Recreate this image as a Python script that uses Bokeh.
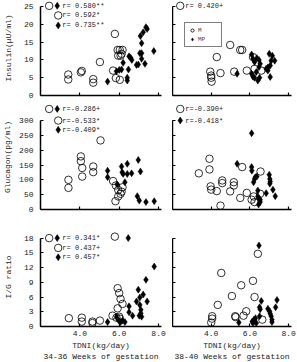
from bokeh.plotting import figure
from bokeh.layouts import gridplot
from bokeh.models import Range1d, FixedTicker, Legend, LegendItem, NumeralTickFormatter
from bokeh.core.properties import value
from bokeh.embed import file_html
from bokeh.resources import INLINE

FONT = "Liberation Mono"

# ---------------- data ----------------
# Insulin, 34-36 weeks
ins34_m_tdni = [3.41, 3.41, 4.05, 4.10, 4.68, 4.68, 5.02, 5.69, 5.78, 5.83, 5.92, 6.03, 5.95, 6.07, 6.17, 6.03, 6.12]
ins34_m_val = [5.9, 4.5, 6.5, 6.9, 4.6, 3.6, 9.4, 7.0, 17.3, 4.9, 12.8, 12.8, 11.2, 11.2, 12.8, 4.4, 11.7]
ins34_mp_tdni = [5.41, 5.86, 6.00, 6.12, 6.20, 6.41, 6.41, 6.47, 6.50, 6.58, 6.64, 6.88, 6.97, 7.05, 7.08, 7.14, 7.14, 7.14, 7.22, 7.36, 7.31, 7.42, 7.76]
ins34_mp_val = [3.9, 6.8, 7.2, 7.3, 9.2, 5.0, 4.2, 7.3, 11.0, 10.6, 10.0, 8.6, 8.7, 11.9, 16.7, 14.7, 11.9, 10.3, 17.8, 19.2, 8.9, 18.7, 12.5]

# Insulin, 38-40 weeks
ins38_m_tdni = [4.98, 5.50, 5.60, 4.29, 3.95, 4.00, 4.00, 4.02, 4.48, 5.19, 5.84, 6.16, 6.24, 6.59]
ins38_m_val = [14.2, 12.8, 12.8, 10.8, 6.7, 5.6, 5.0, 3.9, 6.3, 6.7, 7.0, 10.8, 7.5, 7.0]
ins38_mp_tdni = [5.34, 6.09, 6.16, 6.24, 6.09, 6.16, 6.24, 6.41, 6.47, 6.53, 6.36, 6.47, 6.33, 6.50, 6.84, 6.93, 7.00, 7.05, 7.10, 7.16, 7.28, 7.05, 6.93]
ins38_mp_val = [6.1, 11.5, 10.3, 9.4, 6.1, 5.3, 5.0, 4.2, 10.0, 8.9, 10.5, 8.0, 6.6, 5.0, 7.5, 7.0, 11.7, 8.4, 9.8, 11.2, 9.8, 5.2, 7.9]

# Glucagon, 34-36 weeks
glu34_m_tdni = [3.42, 3.42, 4.05, 4.05, 4.12, 4.12, 4.68, 4.68, 5.05, 5.69, 5.83, 5.81, 5.95, 5.95, 6.07, 6.12, 6.17]
glu34_m_val = [100, 73, 179, 163, 140, 111, 145, 126, 233, 96, 81, 28, 66, 44, 53, 60, 75]
glu34_mp_tdni = [5.41, 5.41, 5.90, 6.12, 6.15, 6.20, 6.29, 6.41, 6.41, 6.63, 6.97, 7.08, 6.92, 7.02, 7.36, 7.78]
glu34_mp_val = [131, 109, 84, 145, 126, 120, 92, 154, 120, 122, 167, 128, 45, 30, 25, 28]

# Glucagon, 38-40 weeks
glu38_m_tdni = [3.36, 3.91, 3.91, 3.97, 4.00, 4.29, 4.48, 4.57, 4.57, 4.98, 5.17, 5.17, 5.50, 5.60, 5.84, 6.09, 6.20, 6.55, 6.53, 6.24]
glu38_m_val = [122, 171, 135, 78, 67, 62, 13, 98, 89, 61, 92, 81, 39, 143, 56, 33, 44, 128, 53, 25]
glu38_mp_tdni = [5.34, 6.09, 6.09, 6.10, 6.19, 6.28, 6.36, 6.41, 6.41, 6.47, 6.45, 6.53, 6.53, 6.84, 7.00, 7.03, 7.05, 7.03, 7.19, 7.31, 6.24]
glu38_mp_val = [154, 257, 143, 131, 92, 109, 111, 64, 44, 36, 17, 33, 25, 55, 117, 103, 94, 87, 67, 45, 103]

# I/G ratio, 34-36 weeks
ig34_m_tdni = [5.78, 3.44, 4.10, 4.10, 4.64, 4.64, 5.02, 5.66, 5.92, 6.00, 6.07, 6.17, 5.92, 6.00, 5.86, 6.03]
ig34_m_val = [18.3, 1.7, 1.8, 1.0, 1.0, 0.7, 1.2, 2.2, 7.8, 6.8, 5.6, 4.6, 3.7, 2.0, 1.8, 1.6]
ig34_mp_tdni = [5.41, 5.86, 5.98, 6.07, 6.17, 6.29, 6.46, 6.50, 6.50, 6.68, 6.88, 6.97, 7.05, 7.02, 7.05, 7.10, 7.10, 7.14, 7.22, 7.36, 7.42, 7.78]
ig34_mp_val = [0.9, 2.0, 1.2, 0.9, 1.2, 0.9, 18.0, 4.1, 2.9, 2.2, 5.1, 7.5, 5.9, 2.2, 4.4, 3.4, 2.7, 2.0, 6.5, 9.5, 5.1, 12.2]

# I/G ratio, 38-40 weeks
ig38_m_tdni = [4.52, 6.41, 6.16, 5.55, 5.07, 6.24, 4.34, 5.81, 4.05, 4.05, 4.00, 5.24, 5.26, 5.67, 6.64]
ig38_m_val = [10.9, 14.8, 9.3, 8.4, 6.2, 6.0, 4.4, 3.1, 2.1, 1.6, 0.8, 2.1, 1.9, 2.2, 1.4]
ig38_mp_tdni = [6.47, 5.43, 6.12, 6.16, 6.21, 6.29, 6.50, 6.59, 6.53, 6.50, 6.93, 7.02, 7.05, 7.10, 7.14, 7.14, 7.33, 7.40, 6.33]
ig38_mp_val = [16.5, 0.8, 1.0, 0.7, 1.4, 1.7, 3.9, 5.2, 3.5, 2.1, 3.6, 3.1, 2.6, 2.1, 1.4, 0.9, 3.9, 5.4, 0.7]

# axis ticks and labels
x_ticks = [4, 6, 8]
ins_ticks = [0, 5, 10, 15, 20, 25]
glu_ticks = [0, 50, 100, 150, 200, 250, 300]
ig_ticks = [0, 3, 6, 9, 12, 15, 18]
y_titles = ["Insulin(\u03bcU/ml)", "Glucagon(pg/ml)", "I/G ratio"]
x_title = "TDNI(kg/day)"
captions = ["34-36 Weeks of gestation", "38-40 Weeks of gestation"]

# correlation annotations: (symbols, text)
r_ins34 = [("MO", "r= 0.580**"), ("O", "r= 0.592*"), ("D", "r= 0.735**")]
r_ins38 = [("O", "r= 0.420+")]
r_glu34 = [("MO", "r=-0.286+"), ("O", "r=-0.533*"), ("D", "r=-0.409*")]
r_glu38 = [("O", "r=-0.390+"), ("D", "r=-0.418*")]
r_ig34 = [("MO", "r= 0.341*"), ("O", "r= 0.437+"), ("D", "r= 0.457*")]
r_ig38 = []

# ---------------- layout ----------------
COL_FW = [121, 119]
COL_BL = [37, 0]
COL_BR = [11, 9]
ROW_FH = [95, 105, 99]
ROW_BT = [0, 0, 12]
ROW_BB = [9, 6, 30]
Y_END = [26.7, 354, 20.16]
Y_TICKS = [ins_ticks, glu_ticks, ig_ticks]
Y_LBL_STANDOFF = [8, 4, 8]
LEG_Y = [[25.2, 22.5, 19.7], [339, 300, 268.6], [18.0, 16.0, 14.1]]

CIRCLE = dict(marker="circle", size=7.5, fill_color=None, line_color="black", line_width=0.8)
DIAMOND = dict(marker="diamond", size=7, fill_color="black", line_color="black", line_width=0.5)


def panel(row, col, mx, my, fx, fy, rlist):
    p = figure(frame_width=COL_FW[col], frame_height=ROW_FH[row],
               x_range=Range1d(2.0, 8.15), y_range=Range1d(0, Y_END[row]),
               output_backend="svg", toolbar_location=None,
               min_border_left=COL_BL[col], min_border_right=COL_BR[col],
               min_border_top=ROW_BT[row], min_border_bottom=ROW_BB[row])
    p.grid.visible = False
    p.outline_line_color = None

    c = p.scatter(mx, my, **CIRCLE)
    d = p.scatter(fx, fy, **DIAMOND)

    for ax in (p.xaxis[0], p.yaxis[0]):
        ax.axis_line_width = 1.5
        ax.axis_line_color = "black"
        ax.major_tick_in = 3
        ax.major_tick_out = 0
        ax.major_tick_line_width = 1.2
        ax.minor_tick_line_color = None
        ax.major_label_text_font = FONT
        ax.major_label_text_font_size = "8px"
        ax.major_label_text_color = "#222222"
        ax.axis_label_text_font = FONT
        ax.axis_label_text_font_style = "normal"
        ax.axis_label_text_font_size = "8px"
        ax.axis_label_text_color = "#222222"

    xa = p.xaxis[0]
    xa.ticker = FixedTicker(ticks=x_ticks)
    xa.formatter = NumeralTickFormatter(format="0.0")
    if row == 2:
        xa.axis_label = x_title + "\n" + captions[col]
        xa.axis_label_text_line_height = 1.25
        xa.major_label_standoff = 4
        xa.axis_label_standoff = 2
    else:
        xa.major_label_overrides = {t: "" for t in x_ticks}
        xa.major_label_standoff = 0

    ya = p.yaxis[0]
    ya.ticker = FixedTicker(ticks=Y_TICKS[row])
    ya.bounds = (0, Y_TICKS[row][-1])
    if col == 0:
        ya.axis_label = y_titles[row]
        ya.major_label_standoff = 7
        ya.axis_label_standoff = Y_LBL_STANDOFF[row]
    else:
        ya.major_label_overrides = {t: "" for t in Y_TICKS[row]}
        ya.major_label_standoff = 0

    # correlation annotations
    if col == 0:
        xc1, xd1, xs, xt = 2.44, 2.85, 2.90, 3.11
    else:
        xc1, xd1, xs, xt = 2.40, 2.80, 2.40, 2.66
    for i, (sym, txt) in enumerate(rlist):
        yy = LEG_Y[row][i]
        if sym == "MO":
            p.scatter([xc1], [yy], **CIRCLE)
            p.scatter([xd1], [yy], **DIAMOND)
        elif sym == "O":
            p.scatter([xs], [yy], **CIRCLE)
        else:
            p.scatter([xs], [yy], **DIAMOND)
        p.text([xt], [yy], text=[txt], text_font=value(FONT), text_font_size="7px",
               text_baseline="middle", text_align="left", text_color="#222222")

    if row == 0 and col == 1:
        leg = Legend(items=[LegendItem(label="M", renderers=[c]),
                            LegendItem(label="MP", renderers=[d])],
                     location=(12, 48), label_text_font=FONT,
                     label_text_font_size="6px", glyph_width=8, glyph_height=8,
                     label_standoff=2, spacing=1, padding=3, margin=0,
                     border_line_color="black", border_line_width=0.8,
                     label_height=8)
        p.add_layout(leg)
    return p


p1 = panel(0, 0, ins34_m_tdni, ins34_m_val, ins34_mp_tdni, ins34_mp_val, r_ins34)
p2 = panel(0, 1, ins38_m_tdni, ins38_m_val, ins38_mp_tdni, ins38_mp_val, r_ins38)
p3 = panel(1, 0, glu34_m_tdni, glu34_m_val, glu34_mp_tdni, glu34_mp_val, r_glu34)
p4 = panel(1, 1, glu38_m_tdni, glu38_m_val, glu38_mp_tdni, glu38_mp_val, r_glu38)
p5 = panel(2, 0, ig34_m_tdni, ig34_m_val, ig34_mp_tdni, ig34_mp_val, r_ig34)
p6 = panel(2, 1, ig38_m_tdni, ig38_m_val, ig38_mp_tdni, ig38_mp_val, r_ig38)

grid = gridplot([[p1, p2], [p3, p4], [p5, p6]], toolbar_location=None)

open("out.html", "w").write(file_html(grid, INLINE))
